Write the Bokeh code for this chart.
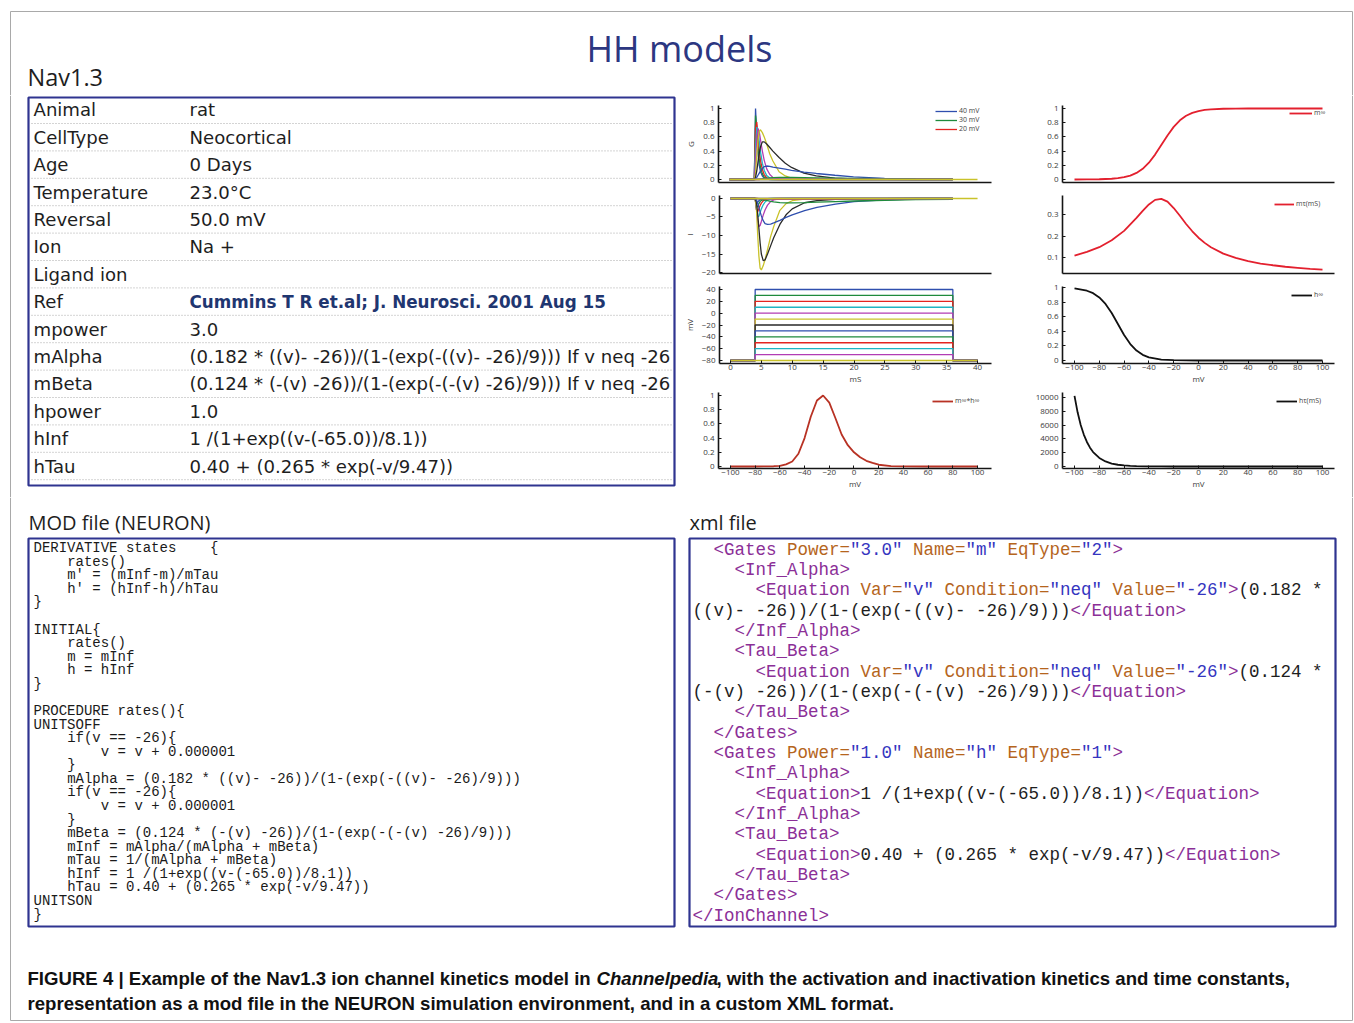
import re
from bokeh.plotting import figure
from bokeh.layouts import column, row
from bokeh.models import Range1d, Legend, LegendItem, FixedTicker, CustomJSTickFormatter
from bokeh.embed import file_html
from bokeh.resources import INLINE
from bokeh.core.properties import value

# ----------------------------------------------------------------- data
TIME_MS = [0, 4, 4.2, 4.4, 4.6, 4.8, 5.0, 5.3, 5.6, 6.0, 6.5, 7.0, 8.0, 9.0, 10, 12, 14, 17, 20, 25, 30, 36]
STEP_MV = [40, 30, 20, 10, 0, -10, -20, -30, -40, -50, -60, -70]
HOLD_MV = -80
STEP_T = [0, 4, 4, 36, 36, 40]
HOLD_T = [0, 40]
HOLD_ZERO = [0, 0]
TRACE_COLORS = ["#2f4fae", "#1f8a3c", "#e42421", "#1fb5c4", "#b23db4", "#c9c22a",
                "#2a2a2a", "#2f4fae", "#1f8a3c", "#e42421", "#1fb5c4", "#b23db4", "#c9c22a"]

G_TRACES = [
    [0, 0, 1.0, 0.62, 0.36, 0.2, 0.11, 0.05, 0.02, 0.01, 0, 0, 0, 0, 0, 0, 0, 0, 0, 0, 0, 0],
    [0, 0, 0.9, 0.72, 0.47, 0.29, 0.17, 0.08, 0.035, 0.012, 0.004, 0, 0, 0, 0, 0, 0, 0, 0, 0, 0, 0],
    [0, 0, 0.72, 0.81, 0.62, 0.42, 0.27, 0.14, 0.07, 0.025, 0.008, 0.002, 0, 0, 0, 0, 0, 0, 0, 0, 0, 0],
    [0, 0, 0.45, 0.74, 0.69, 0.54, 0.39, 0.23, 0.13, 0.055, 0.02, 0.008, 0.001, 0, 0, 0, 0, 0, 0, 0, 0, 0],
    [0, 0, 0.25, 0.58, 0.72, 0.67, 0.56, 0.4, 0.27, 0.15, 0.07, 0.03, 0.008, 0.002, 0, 0, 0, 0, 0, 0, 0, 0],
    [0, 0, 0.09, 0.34, 0.56, 0.68, 0.70, 0.66, 0.6, 0.5, 0.36, 0.26, 0.11, 0.05, 0.02, 0.005, 0, 0, 0, 0, 0, 0],
    [0, 0, 0.03, 0.12, 0.25, 0.37, 0.46, 0.53, 0.53, 0.5, 0.45, 0.4, 0.31, 0.23, 0.17, 0.09, 0.05, 0.02, 0.008, 0.002, 0, 0],
    [0, 0, 0.01, 0.03, 0.06, 0.09, 0.12, 0.16, 0.18, 0.19, 0.185, 0.175, 0.16, 0.145, 0.13, 0.105, 0.085, 0.06, 0.037, 0.015, 0.006, 0.002],
    [0, 0, 0, 0.002, 0.004, 0.006, 0.009, 0.012, 0.016, 0.02, 0.024, 0.027, 0.03, 0.03, 0.029, 0.026, 0.023, 0.019, 0.016, 0.011, 0.008, 0.005],
    [0, 0, 0, 0, 0, 0, 0.001, 0.001, 0.002, 0.002, 0.003, 0.003, 0.003, 0.003, 0.003, 0.003, 0.002, 0.002, 0.002, 0.001, 0.001, 0.001],
    [0, 0, 0, 0, 0, 0, 0, 0, 0, 0, 0, 0, 0, 0, 0, 0, 0, 0, 0, 0, 0, 0],
    [0, 0, 0, 0, 0, 0, 0, 0, 0, 0, 0, 0, 0, 0, 0, 0, 0, 0, 0, 0, 0, 0],
]

I_TRACES = [
    [0, 0, -1.5, -1.0, -0.6, -0.35, -0.2, -0.09, -0.04, -0.01, 0, 0, 0, 0, 0, 0, 0, 0, 0, 0, 0, 0],
    [0, 0, -2.5, -2.1, -1.4, -0.85, -0.5, -0.22, -0.1, -0.03, -0.01, 0, 0, 0, 0, 0, 0, 0, 0, 0, 0, 0],
    [0, 0, -3.0, -3.6, -2.8, -1.9, -1.25, -0.65, -0.3, -0.11, -0.04, -0.01, 0, 0, 0, 0, 0, 0, 0, 0, 0, 0],
    [0, 0, -2.8, -5.0, -4.8, -3.8, -2.8, -1.7, -0.95, -0.42, -0.15, -0.06, -0.01, 0, 0, 0, 0, 0, 0, 0, 0, 0],
    [0, 0, -2.2, -5.8, -7.6, -7.3, -6.2, -4.5, -3.1, -1.8, -0.85, -0.38, -0.1, -0.03, 0, 0, 0, 0, 0, 0, 0, 0],
    [0, 0, -2.5, -9.5, -15.5, -18.8, -19.3, -18.2, -16.5, -13.8, -10.3, -7.6, -3.2, -1.4, -0.6, -0.15, -0.04, 0, 0, 0, 0, 0],
    [0, 0, -1.0, -4.0, -8.0, -12.0, -15.0, -16.8, -16.6, -15.0, -12.8, -10.6, -7.0, -4.4, -2.8, -1.15, -0.55, -0.25, -0.1, -0.03, 0, 0],
    [0, 0, -0.3, -1.2, -2.4, -3.6, -4.7, -6.0, -6.8, -7.0, -6.9, -6.6, -5.9, -5.1, -4.4, -3.3, -2.4, -1.5, -0.85, -0.38, -0.16, -0.05],
    [0, 0, 0, -0.05, -0.1, -0.17, -0.25, -0.35, -0.45, -0.6, -0.75, -0.9, -1.1, -1.2, -1.2, -1.1, -0.98, -0.82, -0.67, -0.47, -0.32, -0.2],
    [0, 0, 0, 0, -0.01, -0.02, -0.03, -0.05, -0.07, -0.1, -0.12, -0.14, -0.16, -0.17, -0.17, -0.16, -0.15, -0.13, -0.11, -0.08, -0.06, -0.04],
    [0, 0, 0, 0, 0, 0, 0, 0, 0, 0, 0, 0, 0, 0, 0, 0, 0, 0, 0, 0, 0, 0],
    [0, 0, 0, 0, 0, 0, 0, 0, 0, 0, 0, 0, 0, 0, 0, 0, 0, 0, 0, 0, 0, 0],
]

V_MH = [-100, -80, -70, -65, -60, -55, -50, -45, -40, -35, -30, -25, -20, -15, -10, -5, 0, 5, 10, 15, 20, 30, 40, 60, 80, 100]
MH = [0, 0, 0.001, 0.004, 0.01, 0.03, 0.07, 0.18, 0.40, 0.70, 0.93, 1.0, 0.90, 0.68, 0.45, 0.30, 0.20, 0.13, 0.08, 0.05, 0.025, 0.006, 0.002, 0, 0, 0]

V_M = [-100, -90, -80, -70, -65, -60, -55, -50, -45, -40, -35, -30, -25, -20, -15, -10, -5, 0, 5, 10, 20, 30, 40, 50, 60, 70, 80, 90, 100]
M_INF = [0.0004, 0.0012, 0.0036, 0.011, 0.019, 0.033, 0.055, 0.093, 0.151, 0.237, 0.351, 0.485, 0.621, 0.741, 0.833,
         0.897, 0.938, 0.964, 0.979, 0.988, 0.996, 0.999, 1.0, 1.0, 1.0, 1.0, 1.0, 1.0, 1.0]

V_TAU_M = [-100, -90, -80, -70, -60, -50, -45, -40, -35, -30, -25, -20, -15, -10, -5, 0, 5, 10, 20, 30, 40, 50, 60, 70, 80, 90, 100]
M_TAU = [0.109, 0.126, 0.148, 0.180, 0.224, 0.284, 0.317, 0.347, 0.368, 0.373, 0.360, 0.330, 0.294, 0.256, 0.222,
         0.192, 0.168, 0.148, 0.118, 0.098, 0.083, 0.072, 0.064, 0.057, 0.052, 0.047, 0.044]

V_H = [-100, -90, -85, -80, -75, -70, -65, -60, -55, -50, -45, -40, -30, -20, -10, 0, 20, 40, 60, 80, 100]
H_INF = [0.987, 0.956, 0.922, 0.864, 0.775, 0.650, 0.500, 0.350, 0.225, 0.136, 0.078, 0.044, 0.013, 0.004, 0.001,
         0.0, 0.0, 0.0, 0.0, 0.0, 0.0]

V_TAU_H = [-100, -97.5, -95, -92.5, -90, -87.5, -85, -80, -75, -70, -65, -60, -55, -50, -40, -30, -20, 0, 20, 40, 60, 80, 100]
H_TAU = [10230, 7855, 6016, 4633, 3557, 2730, 2096, 1236, 729, 430, 254, 150, 89, 52, 18.5, 6.7, 2.6, 0.7, 0.4, 0.4, 0.4, 0.4, 0.4]

G_TICKS = [0, 0.2, 0.4, 0.6, 0.8, 1]
I_TICKS = [0, -5, -10, -15, -20]
V_TICKS = [-80, -60, -40, -20, 0, 20, 40]
T_TICKS = [0, 5, 10, 15, 20, 25, 30, 35, 40]
MV_TICKS = [-100, -80, -60, -40, -20, 0, 20, 40, 60, 80, 100]
TAU_M_TICKS = [0.1, 0.2, 0.3]
TAU_H_TICKS = [0, 2000, 4000, 6000, 8000, 10000]

TABLE_KEYS = ["Animal", "CellType", "Age", "Temperature", "Reversal", "Ion", "Ligand ion", "Ref",
              "mpower", "mAlpha", "mBeta", "hpower", "hInf", "hTau"]
TABLE_VALUES = ["rat", "Neocortical", "0 Days", "23.0°C", "50.0 mV", "Na +", "",
                "Cummins T R et.al; J. Neurosci. 2001 Aug 15", "3.0",
                "(0.182 * ((v)- -26))/(1-(exp(-((v)- -26)/9))) If v neq -26",
                "(0.124 * (-(v) -26))/(1-(exp(-(-(v) -26)/9))) If v neq -26",
                "1.0", "1 /(1+exp((v-(-65.0))/8.1))", "0.40 + (0.265 * exp(-v/9.47))"]

MOD_LINES = [
    "DERIVATIVE states    {",
    "    rates()",
    "    m' = (mInf-m)/mTau",
    "    h' = (hInf-h)/hTau",
    "}",
    "",
    "INITIAL{",
    "    rates()",
    "    m = mInf",
    "    h = hInf",
    "}",
    "",
    "PROCEDURE rates(){",
    "UNITSOFF",
    "    if(v == -26){",
    "        v = v + 0.000001",
    "    }",
    "    mAlpha = (0.182 * ((v)- -26))/(1-(exp(-((v)- -26)/9)))",
    "    if(v == -26){",
    "        v = v + 0.000001",
    "    }",
    "    mBeta = (0.124 * (-(v) -26))/(1-(exp(-(-(v) -26)/9)))",
    "    mInf = mAlpha/(mAlpha + mBeta)",
    "    mTau = 1/(mAlpha + mBeta)",
    "    hInf = 1 /(1+exp((v-(-65.0))/8.1))",
    "    hTau = 0.40 + (0.265 * exp(-v/9.47))",
    "UNITSON",
    "}",
]

XML_LINES = [
    '  <Gates Power="3.0" Name="m" EqType="2">',
    '    <Inf_Alpha>',
    '      <Equation Var="v" Condition="neq" Value="-26">(0.182 *',
    '((v)- -26))/(1-(exp(-((v)- -26)/9)))</Equation>',
    '    </Inf_Alpha>',
    '    <Tau_Beta>',
    '      <Equation Var="v" Condition="neq" Value="-26">(0.124 *',
    '(-(v) -26))/(1-(exp(-(-(v) -26)/9)))</Equation>',
    '    </Tau_Beta>',
    '  </Gates>',
    '  <Gates Power="1.0" Name="h" EqType="1">',
    '    <Inf_Alpha>',
    '      <Equation>1 /(1+exp((v-(-65.0))/8.1))</Equation>',
    '    </Inf_Alpha>',
    '    <Tau_Beta>',
    '      <Equation>0.40 + (0.265 * exp(-v/9.47))</Equation>',
    '    </Tau_Beta>',
    '  </Gates>',
    '</IonChannel>',
]

CAPTION_1A = "FIGURE 4 | Example of the Nav1.3 ion channel kinetics model in"
CAPTION_1B = "Channelpedia"
CAPTION_1C = ", with the activation and inactivation kinetics and time constants,"
CAPTION_2 = "representation as a mod file in the NEURON simulation environment, and in a custom XML format."

# ----------------------------------------------------------------- style
NAVY = "#2f3490"
INK = "#1e1e1e"
AX = "#151515"
UI = "Open Sans"
TAG_C = "#8b2f97"
ATTR_C = "#b5651d"
VAL_C = "#3535c0"
FRAME_C = "#a9a9a9"
FX0, FX1, FY0, FY1 = 10, 1352, 11, 1020

TICK_JS = ("var a = Math.round(Math.abs(tick) * 1000) / 1000;"
           "return (tick < 0 ? '\u2212' : '') + a.toString();")


def text_fig(w, h, x0, y_top):
    p = figure(width=w, height=h, x_range=Range1d(x0, x0 + w), y_range=Range1d(y_top + h, y_top),
               output_backend="svg", toolbar_location=None, x_axis_type=None, y_axis_type=None,
               min_border=0, title=None)
    p.outline_line_color = None
    p.background_fill_color = "white"
    p.border_fill_color = "white"
    return p


def panel(w, h, bl, br, bt, bb, xr, yr, yticks, xticks=None, xlabel=None, ylabel=None):
    p = figure(width=w, height=h, x_range=Range1d(*xr), y_range=Range1d(*yr),
               output_backend="svg", toolbar_location=None, title=None,
               min_border_left=bl, min_border_right=br, min_border_top=bt, min_border_bottom=bb)
    p.xgrid.visible = False
    p.ygrid.visible = False
    p.outline_line_color = None
    p.background_fill_color = "white"
    p.border_fill_color = "white"
    xa, ya = p.xaxis[0], p.yaxis[0]
    for ax in (xa, ya):
        ax.axis_line_color = AX
        ax.axis_line_width = 1.6
        ax.major_tick_in = 3
        ax.major_tick_out = 0
        ax.major_tick_line_color = AX
        ax.minor_tick_line_color = None
        ax.major_label_text_font = UI
        ax.major_label_text_font_size = "8px"
        ax.major_label_text_color = "#3a3a3a"
        ax.axis_label_text_font = UI
        ax.axis_label_text_font_size = "8px"
        ax.axis_label_text_font_style = "normal"
        ax.axis_label_text_color = "#3a3a3a"
    ya.ticker = FixedTicker(ticks=yticks, minor_ticks=[])
    ya.formatter = CustomJSTickFormatter(code=TICK_JS)
    ya.major_label_standoff = 4
    if ylabel:
        ya.axis_label = ylabel
        ya.axis_label_standoff = 4
    if xticks:
        xa.ticker = FixedTicker(ticks=xticks, minor_ticks=[])
        xa.formatter = CustomJSTickFormatter(code=TICK_JS)
        xa.major_label_standoff = 1
    else:
        xa.ticker = FixedTicker(ticks=[], minor_ticks=[])
    if xlabel:
        xa.axis_label = xlabel
        xa.axis_label_standoff = 0
    return p


def add_legend(p, entries, lx, ly, gw):
    leg = Legend(items=[LegendItem(label=lab, renderers=[r]) for lab, r in entries],
                 location=(lx, ly), orientation="vertical",
                 label_text_font=UI, label_text_font_size="7px", label_text_color="#444444",
                 glyph_width=gw, glyph_height=8, label_height=8, label_standoff=2,
                 spacing=0, padding=0, margin=0,
                 border_line_color=None, background_fill_alpha=0)
    p.add_layout(leg)


# ----------------------------------------------------------------- small plots
LW, RW = 333, 333
T_RANGE = (-1.774, 42.258)
VL_RANGE = (-109.7, 111.34)
VR_RANGE = (-109.68, 109.68)

# G
p1 = panel(LW, 95, 38, 22, 10, 8, T_RANGE, (-0.042, 1.042), G_TICKS, ylabel="G")
g_r = []
for k, vstep in enumerate(STEP_MV):
    g_r.append(p1.line(TIME_MS, G_TRACES[k], line_color=TRACE_COLORS[k], line_width=1.3))
p1.line(HOLD_T, HOLD_ZERO, line_color=TRACE_COLORS[12], line_width=1.3)
add_legend(p1, [("40 mV", g_r[0]), ("30 mV", g_r[1]), ("20 mV", g_r[2])], 217, 49, 22)

# I
p2 = panel(LW, 90, 38, 22, 5, 7, T_RANGE, (-20.27, 0.81), I_TICKS, ylabel="I")
for k, vstep in enumerate(STEP_MV):
    p2.line(TIME_MS, I_TRACES[k], line_color=TRACE_COLORS[k], line_width=1.3)
p2.line(HOLD_T, HOLD_ZERO, line_color=TRACE_COLORS[12], line_width=1.3)

# V protocol
p3 = panel(LW, 108, 38, 22, 6, 25, T_RANGE, (-85.07, 45.07), V_TICKS, xticks=T_TICKS, xlabel="mS", ylabel="mV")
for k, vstep in enumerate(STEP_MV):
    p3.line(STEP_T, [HOLD_MV, HOLD_MV, vstep, vstep, HOLD_MV, HOLD_MV], line_color=TRACE_COLORS[k], line_width=1.3)
p3.line(HOLD_T, [HOLD_MV, HOLD_MV], line_color=TRACE_COLORS[12], line_width=1.6)

# m_inf * h_inf
p4 = panel(LW, 109, 38, 22, 4, 29, VL_RANGE, (-0.028, 1.042), G_TICKS, xticks=MV_TICKS, xlabel="mV")
r4 = p4.line(V_MH, MH, line_color="#b83224", line_width=1.8)
add_legend(p4, [("m\u221e*h\u221e", r4)], 214, 63, 21)

# m_inf
p5 = panel(RW, 95, 49, 12, 10, 8, VR_RANGE, (-0.042, 1.042), G_TICKS)
r5 = p5.line(V_M, M_INF, line_color="#e3202e", line_width=1.8)
add_legend(p5, [("m\u221e", r5)], 227, 65, 23)

# m_tau
p6 = panel(RW, 90, 49, 12, 5, 7, VR_RANGE, (0.0256, 0.3884), TAU_M_TICKS)
r6 = p6.line(V_TAU_M, M_TAU, line_color="#e3202e", line_width=1.8)
add_legend(p6, [("m\u03c4(mS)", r6)], 212, 65, 20)

# h_inf
p7 = panel(RW, 108, 49, 12, 6, 25, VR_RANGE, (-0.041, 1.0137), G_TICKS, xticks=MV_TICKS, xlabel="mV")
r7 = p7.line(V_H, H_INF, line_color="#111111", line_width=1.8)
add_legend(p7, [("h\u221e", r7)], 229, 64, 21)

# h_tau
p8 = panel(RW, 109, 49, 12, 4, 29, VR_RANGE, (-290, 10725), TAU_H_TICKS, xticks=MV_TICKS, xlabel="mV")
r8 = p8.line(V_TAU_H, H_TAU, line_color="#111111", line_width=1.8)
add_legend(p8, [("h\u03c4(mS)", r8)], 214, 63, 21)

# ----------------------------------------------------------------- header
head = text_fig(1353, 95, 0, 0)
head.segment(x0=[FX0, FX0, FX1], y0=[FY0, FY0, FY0], x1=[FX1, FX0, FX1], y1=[FY0, 95, 95],
             line_color=FRAME_C, line_width=1)
head.text(x=[679], y=[48], text=["HH models"], text_font=value(UI), text_font_size="36px",
          text_color="#2c3781", text_align="center", text_baseline="middle")
head.text(x=[27], y=[76], text=["Nav1.3"], text_font=value(UI), text_font_size="23.5px",
          text_color=INK, text_align="left", text_baseline="middle")

# ----------------------------------------------------------------- table
table = text_fig(680, 402, 0, 95)
table.segment(x0=[FX0], y0=[95], x1=[FX0], y1=[497], line_color=FRAME_C, line_width=1)
row_y = [109.3 + 27.4 * k for k in range(len(TABLE_KEYS))]
sep_y = [y + 13.7 for y in row_y]
table.segment(x0=[31] * len(sep_y), y0=sep_y, x1=[672] * len(sep_y), y1=sep_y,
              line_color="#a8a8a8", line_width=1, line_dash="1 2")
table.quad(left=[28], right=[674], top=[97], bottom=[485], fill_color=None,
           line_color=NAVY, line_width=2.2)
table.text(x=[33] * len(TABLE_KEYS), y=row_y, text=TABLE_KEYS, text_font=value("DejaVu Sans"),
           text_font_size="18.1px", text_color=INK, text_baseline="middle")
plain_idx = [i for i, k in enumerate(TABLE_KEYS) if k != "Ref"]
table.text(x=[189] * len(plain_idx), y=[row_y[i] for i in plain_idx], text=[TABLE_VALUES[i] for i in plain_idx],
           text_font=value("DejaVu Sans"), text_font_size="18.1px", text_color=INK, text_baseline="middle")
ref_i = TABLE_KEYS.index("Ref")
table.text(x=[189], y=[row_y[ref_i]], text=[TABLE_VALUES[ref_i]], text_font=value("DejaVu Sans"),
           text_font_size="16.8px", text_font_style="bold", text_color="#1f3670", text_baseline="middle")

# right edge strip (carries the page frame next to the plot grid)
strip = text_fig(7, 402, 1346, 95)
strip.segment(x0=[FX1], y0=[95], x1=[FX1], y1=[497], line_color=FRAME_C, line_width=1)

# ----------------------------------------------------------------- bottom
bottom = text_fig(1353, 527, 0, 497)
bottom.segment(x0=[FX0, FX1, FX0], y0=[497, 497, FY1], x1=[FX0, FX1, FX1], y1=[FY1, FY1, FY1],
               line_color=FRAME_C, line_width=1)
bottom.text(x=[28, 689], y=[522, 522], text=["MOD file (NEURON)", "xml file"], text_font=value(UI),
            text_font_size="20px", text_color=INK, text_baseline="middle")
bottom.quad(left=[28, 689], right=[674, 1335], top=[538, 538], bottom=[926, 926], fill_color=None,
            line_color=NAVY, line_width=2.2)

PIECE = re.compile(r"\S+(?: \S+)*")


def place_code(lines, x0, y0, dy, cw, colorize):
    xs, ys, ts, cs = [], [], [], []
    for li, line in enumerate(lines):
        for col, seg, color in colorize(line):
            for m in PIECE.finditer(seg):
                xs.append(x0 + (col + m.start()) * cw)
                ys.append(y0 + li * dy)
                ts.append(m.group(0))
                cs.append(color)
    return xs, ys, ts, cs


def mono(line):
    return [(0, line, "#1a1a1a")]


def xml_colors(line):
    colors = []
    state = "text"
    for ch in line:
        if state == "text":
            if ch == "<":
                state = "tag"
                c = TAG_C
            else:
                c = INK
        elif state == "tag":
            if ch == ">":
                c = TAG_C
                state = "text"
            elif ch == " ":
                c = INK
                state = "attr"
            else:
                c = TAG_C
        elif state == "attr":
            if ch == '"':
                c = VAL_C
                state = "val"
            elif ch == ">":
                c = TAG_C
                state = "text"
            else:
                c = ATTR_C
        else:
            c = VAL_C
            if ch == '"':
                state = "attr"
        colors.append(c)
    segs = []
    start = 0
    for i in range(1, len(line) + 1):
        if i == len(line) or colors[i] != colors[start]:
            segs.append((start, line[start:i], colors[start]))
            start = i
    return segs


mx, my, mt, mc = place_code(MOD_LINES, 33, 547.7, 13.57, 8.41, mono)
bottom.text(x=mx, y=my, text=mt, text_color=mc, text_font=value("Liberation Mono"),
            text_font_size="14px", text_baseline="middle")
xx, xy, xt, xc = place_code(XML_LINES, 692, 549.3, 20.33, 10.5, xml_colors)
bottom.text(x=xx, y=xy, text=xt, text_color=xc, text_font=value("Liberation Mono"),
            text_font_size="17.5px", text_baseline="middle")

CAP_FONT = value("Liberation Sans")
bottom.text(x=[27], y=[978], text=[CAPTION_1A], text_font=CAP_FONT, text_font_size="18.6px",
            text_font_style="bold", text_color="#111111", text_baseline="middle")
bottom.text(x=[596], y=[978], text=[CAPTION_1B], text_font=CAP_FONT, text_font_size="18.6px",
            text_font_style="bold italic", text_color="#111111", text_baseline="middle")
bottom.text(x=[716], y=[978], text=[CAPTION_1C], text_font=CAP_FONT, text_font_size="18.6px",
            text_font_style="bold", text_color="#111111", text_baseline="middle")
bottom.text(x=[27], y=[1003], text=[CAPTION_2], text_font=CAP_FONT, text_font_size="18.6px",
            text_font_style="bold", text_color="#111111", text_baseline="middle")

# ----------------------------------------------------------------- layout
grid = column(row(p1, p5, spacing=0), row(p2, p6, spacing=0), row(p3, p7, spacing=0),
              row(p4, p8, spacing=0), spacing=0)
layout = column(head, row(table, grid, strip, spacing=0), bottom, spacing=0)

with open("out.html", "w") as f:
    f.write(file_html(layout, INLINE))
